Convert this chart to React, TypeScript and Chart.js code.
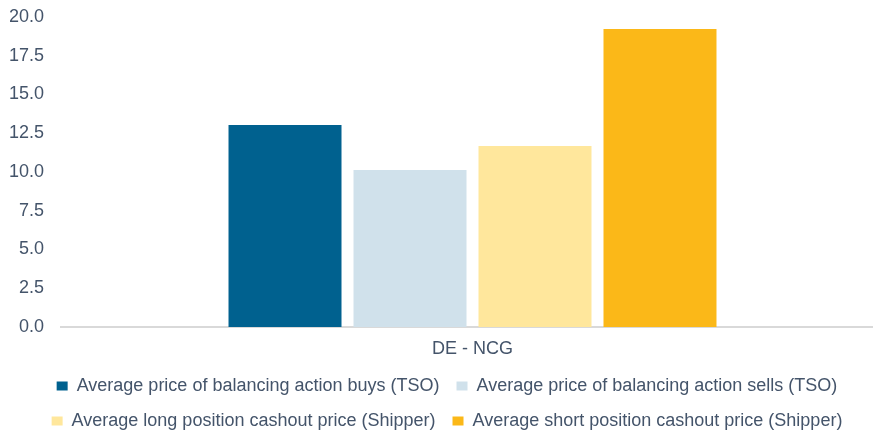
import React, { useEffect, useRef } from "react";
import { Chart, registerables } from "chart.js";

Chart.register(...registerables);

const categories = ["DE - NCG"];
const seriesNames = [
  "Average price of balancing action buys (TSO)",
  "Average price of balancing action sells (TSO)",
  "Average long position cashout price (Shipper)",
  "Average short position cashout price (Shipper)",
];
const buysTSO = [13.03];
const sellsTSO = [10.13];
const longShipper = [11.68];
const shortShipper = [19.23];
const seriesColors = ["#00618F", "#D0E1EB", "#FFE79C", "#FBB818"];
const yMin = 0;
const yMax = 20;
const yStep = 2.5;

const TEXT = "#44546A";
const FONT = "'Liberation Sans', Arial, sans-serif";

export default function App() {
  const ref = useRef<HTMLCanvasElement | null>(null);
  useEffect(() => {
    if (!ref.current) return;
    const values = [buysTSO, sellsTSO, longShipper, shortShipper];
    const chart = new Chart(ref.current, {
      type: "bar",
      data: {
        labels: categories,
        datasets: seriesNames.map((name, i) => ({
          label: name,
          data: values[i],
          backgroundColor: seriesColors[i],
          borderWidth: 0,
          categoryPercentage: 0.6075,
          barPercentage: 0.904,
        })),
      },
      options: {
        animation: false,
        responsive: false,
        maintainAspectRatio: false,
        layout: { padding: { left: 10, top: 17, right: 0, bottom: 0 } },
        plugins: {
          tooltip: { enabled: false },
          legend: {
            position: "bottom",
            maxHeight: 74,
            labels: {
              color: TEXT,
              font: { family: FONT, size: 18 },
              boxWidth: 11,
              boxHeight: 9,
              padding: 17,
            },
          },
        },
        scales: {
          x: {
            grid: { display: false, drawTicks: false },
            border: { display: true, color: "#D9D9D9", width: 2 },
            ticks: { color: TEXT, font: { family: FONT, size: 18 }, padding: 11 },
            afterFit: (scale: any) => {
              scale.height = 33;
            },
          },
          y: {
            min: yMin,
            max: yMax,
            grid: { display: false, drawTicks: false },
            border: { display: false },
            ticks: {
              stepSize: yStep,
              color: TEXT,
              font: { family: FONT, size: 18 },
              padding: 17,
              callback: (v: any) => Number(v).toFixed(1),
            },
            afterFit: (scale: any) => {
              scale.width = 51;
              scale.paddingTop = 0;
              scale.paddingBottom = 0;
            },
          },
        },
      },
    });
    return () => chart.destroy();
  }, []);
  return (
    <div style={{ position: "fixed", left: 0, top: 0, width: 873, height: 434, overflow: "hidden", background: "#fff" }}>
      <canvas ref={ref} width={884} height={434} style={{ display: "block", width: 884, height: 434 }} />
    </div>
  );
}
